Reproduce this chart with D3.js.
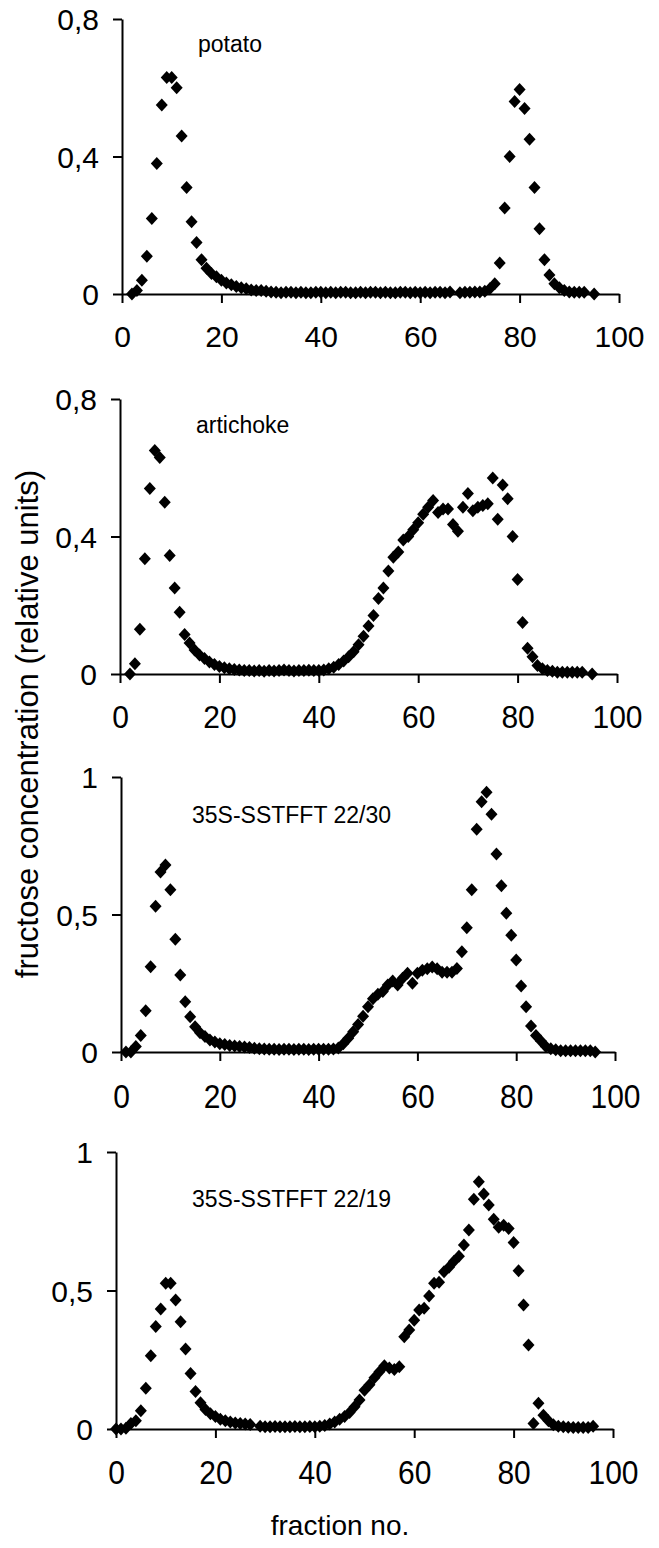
<!DOCTYPE html>
<html>
<head>
<meta charset="utf-8">
<script src="https://cdn.jsdelivr.net/npm/d3@7"></script>
<style>
  body { margin: 0; background: #fff; }
  text { font-family: "Liberation Sans", Arial, Helvetica, sans-serif; fill: #000; }
  .axis path, .axis line { stroke: #000; stroke-width: 2; }
</style>
</head>
<body>
<svg id="chart" width="659" height="1548"></svg>
<script>
// fructose concentration per fraction (null = no point)
var potatoStart = 2;
var potato = [
  0, 0.01, 0.04, 0.11, 0.22, 0.38, 0.55, 0.63, 0.63, 0.60,
  0.46, 0.31, 0.21, 0.15, 0.10, 0.075, 0.06, 0.05, 0.04, 0.032,
  0.027, 0.022, 0.018, 0.015, 0.012, 0.01, 0.01, 0.008, 0.006, 0.005,
  0.004, 0.005, 0.005, 0.004, 0.005, 0.004, 0.004, 0.005, 0.005, 0.004,
  0.005, 0.004, 0.005, 0.005, 0.004, 0.004, 0.005, 0.004, 0.005, 0.005,
  0.004, 0.005, 0.004, 0.004, 0.005, 0.005, 0.004, 0.005, 0.004, 0.005,
  0.004, 0.005, 0.005, 0.004, 0.006, null, 0.004, 0.005, 0.005, 0.006,
  0.006, 0.008, 0.015, 0.03, 0.09, 0.25, 0.40, 0.56, 0.595, 0.54,
  0.45, 0.31, 0.19, 0.10, 0.055, 0.03, 0.018, 0.01, 0.006, 0.005,
  0.005, 0.005, null, 0
];

var artichokeStart = 2;
var artichoke = [
  0, 0.03, 0.13, 0.335, 0.54, 0.65, 0.63, 0.50, 0.345, 0.25,
  0.18, 0.115, 0.09, 0.07, 0.055, 0.045, 0.035, 0.028, 0.022, 0.018,
  0.015, 0.013, 0.012, 0.01, 0.01, 0.009, 0.01, 0.008, 0.01, 0.009,
  0.01, 0.012, 0.01, 0.009, 0.01, 0.01, 0.011, 0.01, 0.01, 0.012,
  0.015, 0.02, 0.028, 0.038, 0.05, 0.065, 0.085, 0.11, 0.14, 0.17,
  0.22, 0.25, 0.30, 0.34, 0.355, 0.39, 0.40, 0.42, 0.44, 0.465,
  0.485, 0.505, 0.47, 0.48, 0.48, 0.435, 0.415, 0.485, 0.525, 0.475,
  0.485, 0.49, 0.495, 0.57, 0.45, 0.55, 0.51, 0.40, 0.275, 0.15,
  0.075, 0.05, 0.025, 0.015, 0.01, 0.008, 0.005, 0.005, 0.005, 0.005,
  0.005, 0.005, null, 0
];

var line30Start = 1;
var line30 = [
  0, 0, 0.02, 0.06, 0.15, 0.31, 0.53, 0.655, 0.68, 0.59,
  0.41, 0.28, 0.183, 0.128, 0.092, 0.07, 0.056, 0.044, 0.036, 0.03,
  0.027, 0.024, 0.022, 0.02, 0.018, 0.016, 0.014, 0.012, 0.011, 0.01,
  0.01, 0.009, 0.01, 0.01, 0.009, 0.01, 0.01, 0.009, 0.01, 0.01,
  0.01, 0.01, 0.011, 0.015, 0.03, 0.05, 0.074, 0.10, 0.13, 0.165,
  0.194, 0.21, 0.22, 0.244, 0.258, 0.244, 0.268, 0.286, 0.25, 0.286,
  0.297, 0.303, 0.309, 0.303, 0.29, 0.29, 0.29, 0.304, 0.365, 0.452,
  0.59, 0.81, 0.91, 0.945, 0.865, 0.72, 0.605, 0.505, 0.425, 0.335,
  0.24, 0.165, 0.095, 0.06, 0.04, 0.02, 0.012, 0.008, 0.005, 0.005,
  0.005, 0.005, 0.005, 0.005, 0.005, 0
];

var line19Start = 0;
var line19 = [
  0, 0, 0.003, 0.02, 0.03, 0.066, 0.147, 0.264, 0.37, 0.433,
  0.526, 0.526, 0.466, 0.387, 0.289, 0.20, 0.135, 0.095, 0.07, 0.055,
  0.045, 0.035, 0.03, 0.025, 0.022, 0.02, 0.018, 0.016, null, 0.01,
  0.008, 0.008, 0.009, 0.008, 0.008, 0.008, 0.009, 0.008, 0.008, 0.009,
  0.008, 0.01, 0.013, 0.018, 0.025, 0.035, 0.045, 0.06, 0.08, 0.105,
  0.14, 0.16, 0.185, 0.207, 0.228, 0.22, 0.215, 0.225, 0.333, 0.357,
  0.393, 0.43, 0.436, 0.48, 0.526, 0.53, 0.568, 0.584, 0.606, 0.624,
  0.664, 0.718, 0.829, 0.893, 0.848, 0.809, 0.757, 0.728, 0.736, 0.724,
  0.673, 0.571, 0.448, 0.303, 0.02, 0.093, 0.05, 0.03, 0.015, 0.01,
  0.008, 0.006, 0.005, 0.005, 0.005, 0.005, 0.01
];

var panelNames = ["potato", "artichoke", "35S-SSTFFT 22/30", "35S-SSTFFT 22/19"];
var fracTicks = [0, 20, 40, 60, 80, 100];
var concTicksLow = [0, 0.4, 0.8];
var concTicksHigh = [0, 0.5, 1];

// layout of the four stacked panels (pixels)
var panels = [
  { name: panelNames[0], start: potatoStart, values: potato, ymax: 0.8, ticks: concTicksLow,
    left: 122, right: 619, bottom: 294, top: 19, lx: 198, ly: 52, sy: 1.0 },
  { name: panelNames[1], start: artichokeStart, values: artichoke, ymax: 0.8, ticks: concTicksLow,
    left: 120, right: 617, bottom: 674, top: 399, lx: 196, ly: 433, sy: 1.05 },
  { name: panelNames[2], start: line30Start, values: line30, ymax: 1, ticks: concTicksHigh,
    left: 121, right: 615, bottom: 1052, top: 777, lx: 192, ly: 823, sy: 1.12 },
  { name: panelNames[3], start: line19Start, values: line19, ymax: 1, ticks: concTicksHigh,
    left: 116, right: 613, bottom: 1429, top: 1152, lx: 192, ly: 1207, sy: 1.1 }
];

var svg = d3.select("#chart");
var diamond = "M0,-6.5L6,0L0,6.5L-6,0Z";
var comma = function(d){ return String(d).replace(".", ","); };

panels.forEach(function(p){
  var x = d3.scaleLinear().domain([0, 100]).range([p.left, p.right]);
  var y = d3.scaleLinear().domain([0, p.ymax]).range([p.bottom, p.top]);

  var pts = p.values.map(function(v, i){ return { f: p.start + i, v: v }; })
    .filter(function(d){ return d.v !== null; });

  var g = svg.append("g");

  // x axis, ticks pointing down
  var xa = g.append("g").attr("class", "axis")
    .attr("transform", "translate(0," + p.bottom + ")")
    .call(d3.axisBottom(x).tickValues(fracTicks).tickSize(9).tickSizeOuter(0));
  xa.selectAll("text")
    .style("font-size", "30px")
    .attr("y", 32 / p.sy)
    .attr("dy", "0.71em")
    .attr("transform", "scale(1," + p.sy + ")");

  // y axis
  var ya = g.append("g").attr("class", "axis")
    .attr("transform", "translate(" + p.left + ",0)")
    .call(d3.axisLeft(y).tickValues(p.ticks).tickSize(9).tickSizeOuter(0).tickFormat(comma));
  ya.selectAll("text")
    .style("font-size", "30px")
    .attr("x", -23)
    .attr("dy", "0.36em");

  g.append("text")
    .attr("x", p.lx)
    .attr("y", p.ly)
    .style("font-size", "23px")
    .text(p.name);

  g.selectAll("path.pt")
    .data(pts)
    .enter()
    .append("path")
    .attr("class", "pt")
    .attr("d", diamond)
    .attr("fill", "#000")
    .attr("transform", function(d){ return "translate(" + x(d.f) + "," + y(d.v) + ")"; });
});

svg.append("text")
  .attr("transform", "translate(38,724) rotate(-90)")
  .attr("text-anchor", "middle")
  .style("font-size", "31px")
  .text("fructose concentration (relative units)");

svg.append("text")
  .attr("x", 340)
  .attr("y", 1535)
  .attr("text-anchor", "middle")
  .style("font-size", "28px")
  .text("fraction no.");
</script>
</body>
</html>
